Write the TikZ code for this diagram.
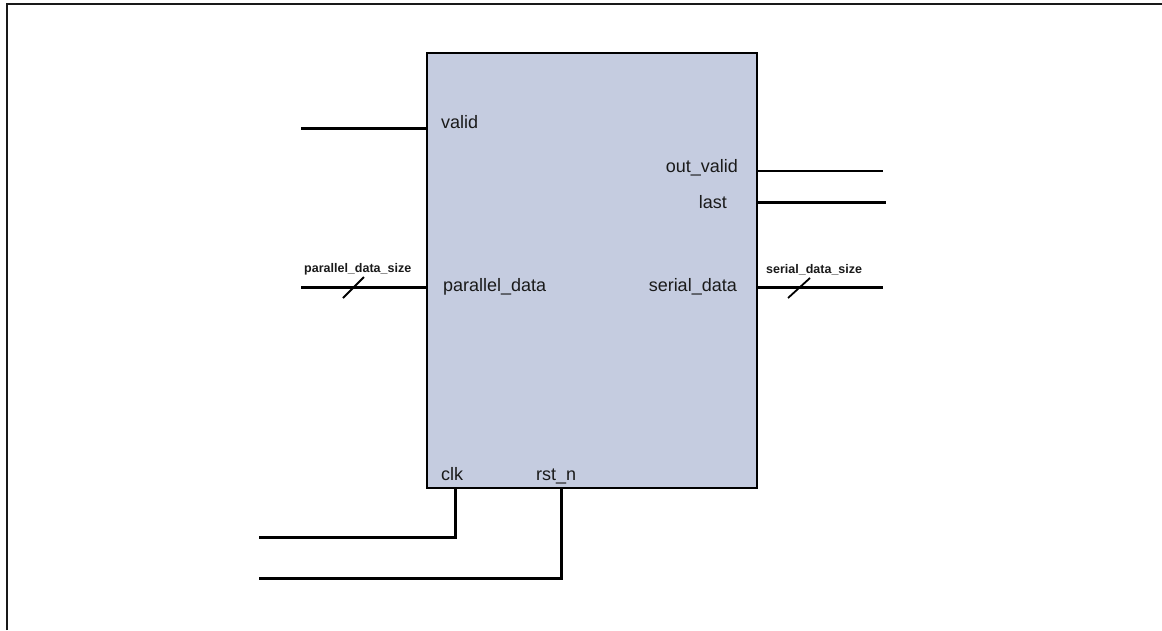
\documentclass[tikz,border=0pt]{standalone}
\usepackage{fontspec}
\setmainfont{Liberation Sans}
\definecolor{blockfill}{HTML}{C5CCE0}
\definecolor{txt}{HTML}{1A1A1A}
\begin{document}
\begin{tikzpicture}[x=1pt,y=-1pt,
  wire/.style={line width=3pt,black},
  thinwire/.style={line width=2.2pt,black},
  busmark/.style={line width=1.8pt,black},
  port/.style={inner sep=0pt,font=\fontsize{18}{18}\selectfont,text=txt},
  buslabel/.style={inner sep=0pt,font=\bfseries\fontsize{12.5}{13}\selectfont,text=txt},
  frame/.style={line width=2.6pt,black!90}]
\useasboundingbox (0,0) rectangle (1162,630);
% page frame (top and left edges)
\draw[frame] (7,630) -- (7,4) -- (1162,4);
% the serializer block
\node[draw=black,line width=2.6pt,fill=blockfill,inner sep=0pt,outer sep=0pt,
      minimum width=330pt,minimum height=435pt,anchor=north west] (blk) at (427,53) {};
% port names inside the block
\node[port,anchor=base west] (pvalid) at (441,128) {valid};
\node[port,anchor=base east] (poutv) at (738,172) {out\_valid};
\node[port,anchor=base east] (plast) at (727,208) {last};
\node[port,anchor=base west] (ppd) at (443,291) {parallel\_data};
\node[port,anchor=base east] (psd) at (737,291) {serial\_data};
\node[port,anchor=base west] (pclk) at (441,480) {clk};
\node[port,anchor=base west] (prst) at (536,480) {rst\_n};
% free wire ends
\coordinate (validIn) at (301,128);
\coordinate (pdIn) at (301,287);
\coordinate (outvOut) at (883,171);
\coordinate (lastOut) at (886,202);
\coordinate (sdOut) at (883,287);
\coordinate (clkIn) at (259,537);
\coordinate (rstIn) at (259,578);
\coordinate (clkTap) at (455,0);
\coordinate (rstTap) at (561,0);
% input wires
\draw[wire] (validIn) -- (validIn -| blk.west);
\draw[wire] (pdIn) -- (pdIn -| blk.west);
% output wires
\draw[thinwire] (outvOut -| blk.east) -- (outvOut);
\draw[wire] (lastOut -| blk.east) -- (lastOut);
\draw[wire] (sdOut -| blk.east) -- (sdOut);
% clock and reset
\draw[wire] (clkTap |- blk.south) -- (clkTap |- clkIn) -- (clkIn);
\draw[wire] (rstTap |- blk.south) -- (rstTap |- rstIn) -- (rstIn);
% bus width marks
\coordinate (pdMarkA) at (343,298);
\coordinate (pdMarkB) at (364,277);
\coordinate (sdMarkA) at (788,298);
\coordinate (sdMarkB) at (810,278);
\draw[busmark] (pdMarkA) -- (pdMarkB);
\draw[busmark] (sdMarkA) -- (sdMarkB);
\node[buslabel,anchor=base west] (pdsize) at (304,272) {parallel\_data\_size};
\node[buslabel,anchor=base west] (sdsize) at (766,273) {serial\_data\_size};
\end{tikzpicture}
\end{document}
